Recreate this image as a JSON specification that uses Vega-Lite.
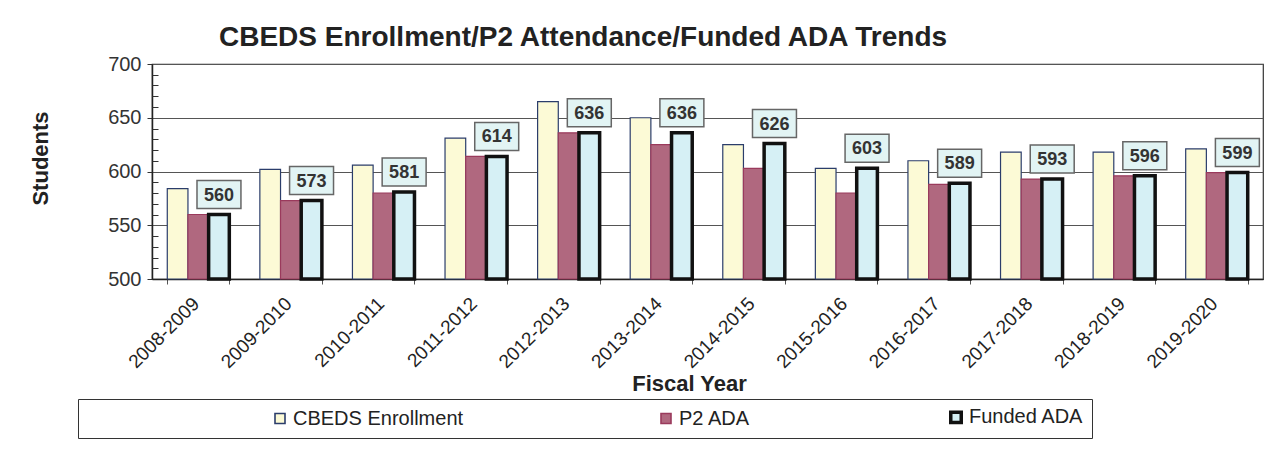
{
  "$schema": "https://vega.github.io/schema/vega-lite/v6.json",
  "autosize": {"type": "none"},
  "width": 1111,
  "height": 215,
  "padding": {"left": 152, "top": 64, "right": 18, "bottom": 182},
  "background": "#ffffff",
  "config": {
    "font": "Liberation Sans",
    "view": {"stroke": "#333333", "strokeWidth": 1.2}
  },
  "title": {
    "text": "CBEDS Enrollment/P2 Attendance/Funded ADA Trends",
    "font": "Liberation Sans",
    "fontSize": 28,
    "fontWeight": "bold",
    "color": "#222222",
    "anchor": "start",
    "frame": "group",
    "dx": 67,
    "baseline": "alphabetic",
    "offset": -20
  },
  "data": {
    "values": [
      {"year": "2008-2009", "series": "CBEDS Enrollment", "value": 584},
      {"year": "2008-2009", "series": "P2 ADA", "value": 560},
      {"year": "2008-2009", "series": "Funded ADA", "value": 560},
      {"year": "2009-2010", "series": "CBEDS Enrollment", "value": 602},
      {"year": "2009-2010", "series": "P2 ADA", "value": 573},
      {"year": "2009-2010", "series": "Funded ADA", "value": 573},
      {"year": "2010-2011", "series": "CBEDS Enrollment", "value": 606},
      {"year": "2010-2011", "series": "P2 ADA", "value": 580},
      {"year": "2010-2011", "series": "Funded ADA", "value": 581},
      {"year": "2011-2012", "series": "CBEDS Enrollment", "value": 631},
      {"year": "2011-2012", "series": "P2 ADA", "value": 614},
      {"year": "2011-2012", "series": "Funded ADA", "value": 614},
      {"year": "2012-2013", "series": "CBEDS Enrollment", "value": 665},
      {"year": "2012-2013", "series": "P2 ADA", "value": 636},
      {"year": "2012-2013", "series": "Funded ADA", "value": 636},
      {"year": "2013-2014", "series": "CBEDS Enrollment", "value": 650},
      {"year": "2013-2014", "series": "P2 ADA", "value": 625},
      {"year": "2013-2014", "series": "Funded ADA", "value": 636},
      {"year": "2014-2015", "series": "CBEDS Enrollment", "value": 625},
      {"year": "2014-2015", "series": "P2 ADA", "value": 603},
      {"year": "2014-2015", "series": "Funded ADA", "value": 626},
      {"year": "2015-2016", "series": "CBEDS Enrollment", "value": 603},
      {"year": "2015-2016", "series": "P2 ADA", "value": 580},
      {"year": "2015-2016", "series": "Funded ADA", "value": 603},
      {"year": "2016-2017", "series": "CBEDS Enrollment", "value": 610},
      {"year": "2016-2017", "series": "P2 ADA", "value": 588},
      {"year": "2016-2017", "series": "Funded ADA", "value": 589},
      {"year": "2017-2018", "series": "CBEDS Enrollment", "value": 618},
      {"year": "2017-2018", "series": "P2 ADA", "value": 593},
      {"year": "2017-2018", "series": "Funded ADA", "value": 593},
      {"year": "2018-2019", "series": "CBEDS Enrollment", "value": 618},
      {"year": "2018-2019", "series": "P2 ADA", "value": 596},
      {"year": "2018-2019", "series": "Funded ADA", "value": 596},
      {"year": "2019-2020", "series": "CBEDS Enrollment", "value": 621},
      {"year": "2019-2020", "series": "P2 ADA", "value": 599},
      {"year": "2019-2020", "series": "Funded ADA", "value": 599}
    ]
  },
  "encoding": {
    "x": {
      "field": "year",
      "type": "nominal",
      "scale": {"paddingInner": 0.33, "paddingOuter": 0.165},
      "axis": {
        "title": "Fiscal Year",
        "titleFont": "Liberation Sans",
        "titleFontSize": 22,
        "titleFontWeight": "bold",
        "titleColor": "#222222",
        "titleX": 537,
        "titleY": 111,
        "titleAlign": "center",
        "titleBaseline": "alphabetic",
        "labelAngle": -45,
        "labelFontSize": 19,
        "labelColor": "#222222",
        "labelPadding": 10,
        "labelOffset": -9,
        "tickBand": "extent",
        "tickSize": 5,
        "tickColor": "#555555",
        "domainColor": "#222222",
        "domainWidth": 1.5
      }
    },
    "y": {
      "field": "value",
      "type": "quantitative",
      "scale": {"domain": [500, 700], "zero": false, "nice": false},
      "axis": null
    }
  },
  "layer": [
    {
      "mark": {"type": "bar"},
      "encoding": {
        "y": {
          "field": "value",
          "type": "quantitative",
          "scale": {"domain": [500, 700], "zero": false, "nice": false},
          "axis": {
            "orient": "left",
            "values": [500, 550, 600, 650, 700],
            "title": "Students",
            "titleFont": "Liberation Sans",
            "titleFontSize": 22,
            "titleFontWeight": "bold",
            "titleColor": "#222222",
            "titleAngle": -90,
            "titleX": -112,
            "titleY": 94,
            "titleAlign": "center",
            "titleBaseline": "middle",
            "labelFontSize": 20,
            "labelColor": "#333333",
            "labelPadding": 6,
            "tickSize": 5,
            "tickColor": "#333333",
            "domainColor": "#222222",
            "domainWidth": 1.5,
            "grid": true,
            "gridColor": "#555555",
            "gridWidth": 1
          }
        },
        "y2": {"datum": 500},
        "xOffset": {
          "field": "series",
          "type": "nominal",
          "sort": ["CBEDS Enrollment", "P2 ADA", "Funded ADA"],
          "scale": {"domain": ["CBEDS Enrollment", "P2 ADA", "Funded ADA"], "paddingInner": 0, "paddingOuter": 0}
        },
        "color": {
          "field": "series",
          "type": "nominal",
          "scale": {
            "domain": ["CBEDS Enrollment", "P2 ADA", "Funded ADA"],
            "range": ["#fcfad6", "#b0687f", "#d6f0f5"]
          },
          "legend": {
            "orient": "none",
            "legendX": -74,
            "legendY": 335,
            "direction": "horizontal",
            "title": "\u00a0",
            "titleOrient": "left",
            "titlePadding": 184,
            "padding": 8,
            "strokeColor": "#333333",
            "fillColor": "#ffffff",
            "columnPadding": 192,
            "labelFontSize": 20,
            "labelLimit": 400,
            "labelColor": "#222222",
            "labelOffset": 3,
            "symbolType": "square",
            "encode": {
              "symbols": {
                "update": {
                  "fill": {"signal": "datum.value == 'CBEDS Enrollment' ? '#fcfad6' : datum.value == 'P2 ADA' ? '#f3dde3' : '#d6f0f5'"},
                  "stroke": {"signal": "datum.value == 'CBEDS Enrollment' ? '#2b3d6b' : datum.value == 'P2 ADA' ? '#c84a63' : '#111111'"},
                  "strokeWidth": {"signal": "datum.value == 'Funded ADA' ? 3.5 : 1.6"},
                  "size": {"signal": "datum.value == 'Funded ADA' ? 110 : 100"}
                }
              }
            }
          }
        },
        "stroke": {
          "field": "series",
          "type": "nominal",
          "scale": {
            "domain": ["CBEDS Enrollment", "P2 ADA", "Funded ADA"],
            "range": ["#2b3d6b", "#9a3a5c", "#111111"]
          },
          "legend": null
        },
        "strokeWidth": {
          "condition": {"test": "datum.series == 'Funded ADA'", "value": 3.5},
          "value": 1.2
        }
      }
    },
    {
      "transform": [{"filter": "datum.series == 'Funded ADA'"}],
      "mark": {
        "type": "point",
        "shape": "M-1.57,-1H1.57V1H-1.57Z",
        "size": 784,
        "filled": true,
        "fill": "#e2f4f4",
        "stroke": "#666666",
        "strokeWidth": 1.5,
        "opacity": 1,
        "yOffset": -20
      },
      "encoding": {
        "xOffset": {"datum": "Funded ADA"}
      }
    },
    {
      "transform": [{"filter": "datum.series == 'Funded ADA'"}],
      "mark": {
        "type": "text",
        "font": "Liberation Sans",
        "fontSize": 18,
        "fontWeight": "bold",
        "color": "#333333",
        "baseline": "middle",
        "align": "center",
        "yOffset": -19
      },
      "encoding": {
        "xOffset": {"datum": "Funded ADA"},
        "text": {"field": "value", "type": "quantitative"},
        "y": {
          "field": "value",
          "type": "quantitative",
          "scale": {"domain": [500, 700], "zero": false, "nice": false},
          "axis": {
            "orient": "left",
            "values": [510, 520, 530, 540, 560, 570, 580, 590, 610, 620, 630, 640, 660, 670, 680, 690],
            "labels": false,
            "title": null,
            "grid": false,
            "domain": false,
            "tickSize": -6,
            "tickColor": "#333333"
          }
        }
      }
    }
  ],
  "resolve": {"axis": {"y": "independent"}}
}
